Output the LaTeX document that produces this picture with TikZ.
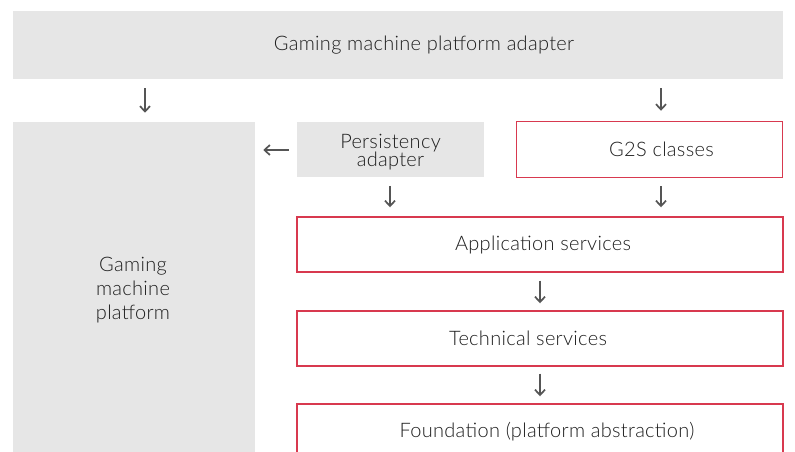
\documentclass[tikz,border=0pt]{standalone}
\usepackage{fontspec}
\setmainfont{Lato Light}[LetterSpace=1.5]
\usetikzlibrary{arrows.meta,calc}
\definecolor{boxgray}{HTML}{E6E6E6}
\definecolor{boxred}{HTML}{D8394F}
\definecolor{txt}{HTML}{1E1E1E}
\definecolor{arrgray}{HTML}{555555}
\tikzset{
  x=0.75pt, y=-0.75pt,
  lbl/.style={text=txt, font=\fontsize{15}{14}\selectfont, align=center, inner sep=0pt},
  graybox/.style={fill=boxgray, draw=none, inner sep=0pt},
  redbox/.style={fill=white, draw=boxred, line width=1.1pt, inner sep=0pt},
  arr/.style={draw=arrgray, line width=1.5pt, -{Straight Barb[length=4pt,width=7.5pt,line width=1.3pt]}},
}
\begin{document}
\begin{tikzpicture}
\useasboundingbox (0,0) rectangle (795,452);
\fill[white] (0,0) rectangle (795,452);
% boxes
\node[graybox, minimum width=770*0.75pt, minimum height=68*0.75pt] (top) at (398,45) {};
\node[graybox, minimum width=242*0.75pt, minimum height=346*0.75pt] (lp) at (134,295) {};
\node[graybox, minimum width=187*0.75pt, minimum height=55*0.75pt] (pa) at (390.5,150) {};
\node[redbox, minimum width=266*0.75pt, minimum height=56*0.75pt] (g2s) at (649.5,149.5) {};
\node[redbox, minimum width=486*0.75pt, minimum height=55*0.75pt] (app) at (540,244.5) {};
\node[redbox, minimum width=486*0.75pt, minimum height=55*0.75pt] (tech) at (540,338.5) {};
\node[redbox, minimum width=486*0.75pt, minimum height=56*0.75pt] (found) at (540,432) {};
% texts
\node[lbl] (topt) at ($(top.center)+(26,0)$) {Gaming machine platform adapter};
\node[lbl, font=\fontsize{15}{18}\selectfont] (lpt) at (133,290) {Gaming\\machine\\platform};
\node[lbl] (pat) at ($(pa.center)+(0,2)$) {Persistency\\adapter};
\node[lbl] (g2st) at ($(g2s.center)+(12,0)$) {G2S classes};
\node[lbl] (appt) at ($(app.center)+(3,0)$) {Application services};
\node[lbl] (techt) at ($(tech.center)+(-12,0)$) {Technical services};
\node[lbl] (foundt) at ($(found.center)+(7,0)$) {Foundation (platform abstraction)};
% arrow columns
\coordinate (c1) at (145,0);
\coordinate (c2) at (661,0);
\coordinate (c3) at (390,0);
\coordinate (c4) at (540,0);
\draw[arr, shorten <=9*0.75pt, shorten >=9*0.75pt] (top.south -| c1) -- (lp.north -| c1);
\draw[arr, shorten <=9*0.75pt, shorten >=10*0.75pt] (top.south -| c2) -- (g2s.north -| c2);
\draw[arr, shorten <=8*0.75pt, shorten >=8*0.75pt] (pa.west) -- (lp.east |- pa.west);
\draw[arr, shorten <=8*0.75pt, shorten >=9*0.75pt] (pa.south -| c3) -- (app.north -| c3);
\draw[arr, shorten <=8*0.75pt, shorten >=9*0.75pt] (g2s.south -| c2) -- (app.north -| c2);
\draw[arr, shorten <=8*0.75pt, shorten >=7*0.75pt] (app.south -| c4) -- (tech.north -| c4);
\draw[arr, shorten <=7*0.75pt, shorten >=7*0.75pt] (tech.south -| c4) -- (found.north -| c4);
\end{tikzpicture}
\end{document}
